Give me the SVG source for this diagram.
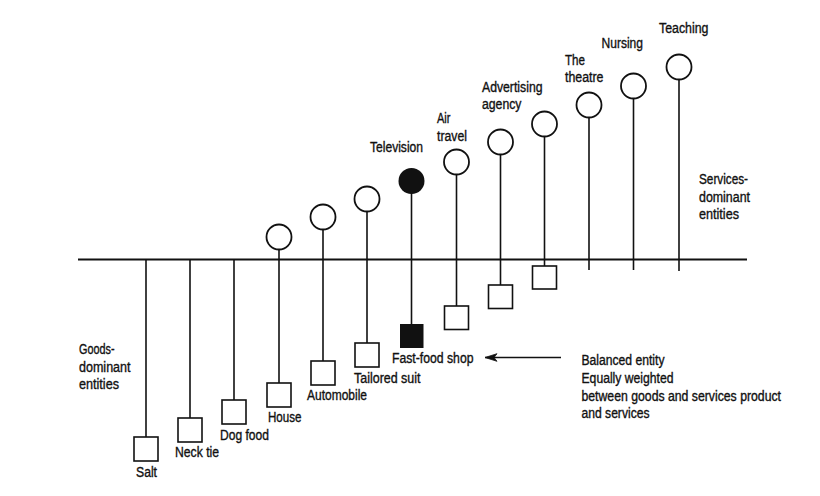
<svg xmlns="http://www.w3.org/2000/svg" width="820" height="496" viewBox="0 0 820 496">
<style>
text{font-family:"Liberation Sans",Arial,sans-serif;font-size:14px;fill:#111;stroke:#111;stroke-width:0.35}
.sq{fill:#fff;stroke:#111;stroke-width:1.6}
.ci{fill:#fff;stroke:#111;stroke-width:1.8}
.fill{fill:#111}
.ln{stroke:#111;stroke-width:1.6;fill:none}
.ax{stroke:#111;stroke-width:2;fill:none}
</style>
<defs>
<marker id="arr" markerWidth="14" markerHeight="10" refX="13" refY="5" orient="auto" markerUnits="userSpaceOnUse">
<path d="M1,1.2 L13,5 L1,8.8 L4,5 Z" fill="#111" stroke="#111" stroke-width="0.8" stroke-linejoin="round"/>
</marker>
</defs>
<g id="connectors">
<line class="ax" x1="78" y1="259.5" x2="747" y2="259.5"/>
<line class="ln" x1="146" y1="259.5" x2="146" y2="458"/>
<line class="ln" x1="190" y1="259.5" x2="190" y2="438"/>
<line class="ln" x1="234" y1="259.5" x2="234" y2="420"/>
<line class="ln" x1="279" y1="240" x2="279" y2="403"/>
<line class="ln" x1="323" y1="220" x2="323" y2="381"/>
<line class="ln" x1="367" y1="202" x2="367" y2="363"/>
<line class="ln" x1="411.5" y1="184" x2="411.5" y2="326"/>
<line class="ln" x1="456.5" y1="165" x2="456.5" y2="326"/>
<line class="ln" x1="500.5" y1="145" x2="500.5" y2="305"/>
<line class="ln" x1="544.5" y1="127" x2="544.5" y2="286"/>
<line class="ln" x1="589" y1="108" x2="589" y2="270"/>
<line class="ln" x1="633.5" y1="89" x2="633.5" y2="270"/>
<line class="ln" x1="679" y1="70" x2="679" y2="271"/>
<line class="ln" x1="561" y1="357.5" x2="485" y2="357.5" marker-end="url(#arr)"/>
</g>
<g id="salt"><rect class="sq" x="134" y="437" width="24" height="24"/><text x="136" y="477" textLength="21" lengthAdjust="spacingAndGlyphs">Salt</text></g>
<g id="neck-tie"><rect class="sq" x="178" y="418" width="24" height="24"/><text x="175" y="457" textLength="44" lengthAdjust="spacingAndGlyphs">Neck tie</text></g>
<g id="dog-food"><rect class="sq" x="222" y="400" width="24" height="24"/><text x="220" y="440" textLength="49" lengthAdjust="spacingAndGlyphs">Dog food</text></g>
<g id="house"><circle class="ci" cx="279" cy="237" r="12.5"/><rect class="sq" x="267" y="383" width="24" height="24"/><text x="268" y="421.5" textLength="33.5" lengthAdjust="spacingAndGlyphs">House</text></g>
<g id="automobile"><circle class="ci" cx="323" cy="217" r="12.5"/><rect class="sq" x="311" y="361" width="24" height="24"/><text x="307" y="400" textLength="60" lengthAdjust="spacingAndGlyphs">Automobile</text></g>
<g id="tailored-suit"><circle class="ci" cx="367" cy="199" r="12.5"/><rect class="sq" x="355" y="343" width="24" height="24"/><text x="354" y="383" textLength="66.5" lengthAdjust="spacingAndGlyphs">Tailored suit</text></g>
<g id="television"><circle class="fill" cx="411.5" cy="181" r="13"/><text x="370" y="151.5" textLength="53" lengthAdjust="spacingAndGlyphs">Television</text></g>
<g id="fast-food-shop"><rect class="fill" x="400" y="324" width="23.5" height="24"/><text x="392" y="362.5" textLength="81.5" lengthAdjust="spacingAndGlyphs">Fast-food shop</text></g>
<g id="air-travel"><circle class="ci" cx="456.5" cy="162" r="12.5"/><rect class="sq" x="444.5" y="306" width="24" height="23.5"/><text x="437" y="123" textLength="13.5" lengthAdjust="spacingAndGlyphs">Air</text><text x="437" y="141" textLength="30" lengthAdjust="spacingAndGlyphs">travel</text></g>
<g id="advertising-agency"><circle class="ci" cx="500.5" cy="142" r="12.5"/><rect class="sq" x="488.5" y="285" width="24" height="23.5"/><text x="482" y="91.5" textLength="60.5" lengthAdjust="spacingAndGlyphs">Advertising</text><text x="482" y="109" textLength="39.5" lengthAdjust="spacingAndGlyphs">agency</text></g>
<g id="unlabeled-entity"><circle class="ci" cx="544.5" cy="124" r="12.5"/><rect class="sq" x="532.5" y="266" width="24" height="23"/></g>
<g id="the-theatre"><circle class="ci" cx="589" cy="105" r="12.5"/><text x="565" y="65" textLength="20" lengthAdjust="spacingAndGlyphs">The</text><text x="565" y="81.5" textLength="38.5" lengthAdjust="spacingAndGlyphs">theatre</text></g>
<g id="nursing"><circle class="ci" cx="633.5" cy="86" r="12.5"/><text x="601.5" y="48" textLength="41.5" lengthAdjust="spacingAndGlyphs">Nursing</text></g>
<g id="teaching"><circle class="ci" cx="679" cy="67" r="12.5"/><text x="659" y="32.5" textLength="49.5" lengthAdjust="spacingAndGlyphs">Teaching</text></g>
<g id="goods-dominant"><text x="79" y="354" textLength="35.5" lengthAdjust="spacingAndGlyphs">Goods-</text><text x="79" y="371.5" textLength="51.5" lengthAdjust="spacingAndGlyphs">dominant</text><text x="79" y="389" textLength="40" lengthAdjust="spacingAndGlyphs">entities</text></g>
<g id="services-dominant"><text x="699" y="184" textLength="49" lengthAdjust="spacingAndGlyphs">Services-</text><text x="699" y="201.5" textLength="51" lengthAdjust="spacingAndGlyphs">dominant</text><text x="699" y="219" textLength="40" lengthAdjust="spacingAndGlyphs">entities</text></g>
<g id="balanced-entity"><text x="581.5" y="365" textLength="83" lengthAdjust="spacingAndGlyphs">Balanced entity</text><text x="581.5" y="382.5" textLength="92" lengthAdjust="spacingAndGlyphs">Equally weighted</text><text x="581.5" y="400.5" textLength="199.5" lengthAdjust="spacingAndGlyphs">between goods and services product</text><text x="581.5" y="417.5" textLength="68" lengthAdjust="spacingAndGlyphs">and services</text></g>
</svg>
